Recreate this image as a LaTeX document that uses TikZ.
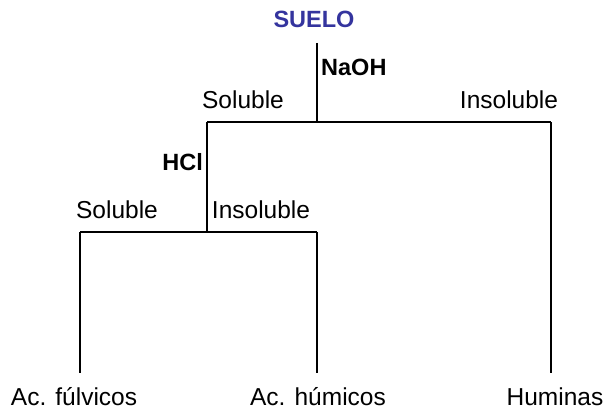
\documentclass[tikz,border=0pt]{standalone}
\usepackage{fontspec}
\setmainfont{Liberation Sans}
\definecolor{suelocol}{RGB}{52,52,158}
\begin{document}
\begin{tikzpicture}[x=1pt,y=-1pt,
  lab/.style={inner sep=0pt,anchor=base,font=\fontsize{24.5}{28}\selectfont},
  blab/.style={inner sep=0pt,font=\fontsize{23.5}{28}\selectfont\bfseries},
  conn/.style={line width=1.5pt,black}]
\useasboundingbox (0,0) rectangle (605,412);
\node[blab,anchor=base,text=suelocol] (suelo) at (314,28) {SUELO};
\node[blab,anchor=base west] (naoh) at (321,76) {NaOH};
\node[blab,anchor=base east] (hcl) at (203,170) {HCl};
\node[lab] (sol1) at (243,108) {Soluble};
\node[lab] (ins1) at (509,108) {Insoluble};
\node[lab] (sol2) at (117,218) {Soluble};
\node[lab] (ins2) at (261,218) {Insoluble};
\node[lab] (fulv) at (74,405) {Ac. fúlvicos};
\node[lab] (hum) at (318,405) {Ac. húmicos};
\node[lab] (humin) at (555,405) {Huminas};
\coordinate (t0) at (317,43);
\coordinate (j1) at (317,122);
\coordinate (l1) at (207,122);
\coordinate (r1) at (551,122);
\coordinate (l2) at (80,232);
\coordinate (r2) at (317,232);
\coordinate (e1) at (80,373);
\coordinate (e2) at (317,373);
\coordinate (e3) at (551,373);
\draw[conn] (t0) -- (j1);
\draw[conn] (l1) -- (r1);
\draw[conn] (l1) -- (l1 |- l2);
\draw[conn] (l2) -- (r2);
\draw[conn] (l2) -- (e1);
\draw[conn] (r2) -- (e2);
\draw[conn] (r1) -- (e3);
\end{tikzpicture}
\end{document}
